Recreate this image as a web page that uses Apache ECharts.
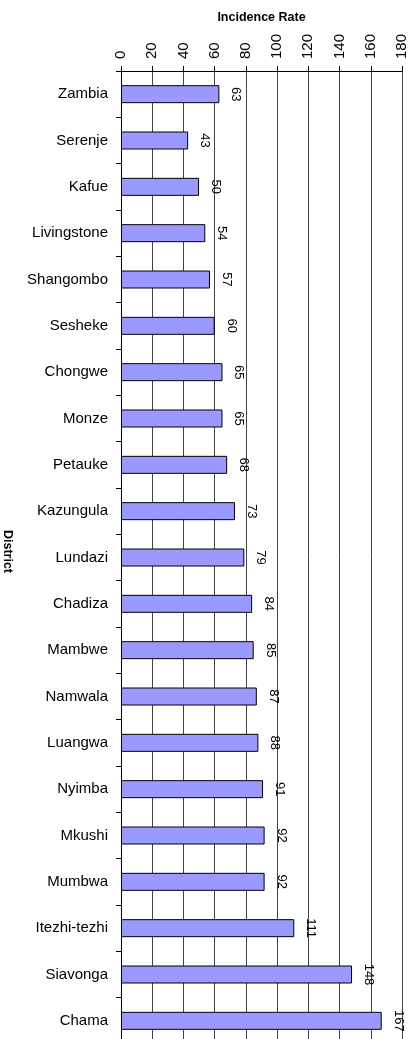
<!DOCTYPE html>
<html>
<head>
<meta charset="utf-8">
<script src="https://cdn.jsdelivr.net/npm/echarts@6/dist/echarts.min.js"></script>
<style>
  html, body { margin: 0; padding: 0; background: #fff; }
  #chart { width: 419px; height: 1039px; }
</style>
</head>
<body>
<div id="chart"></div>
<script>
// districts, top to bottom
var districts = ['Zambia', 'Serenje', 'Kafue', 'Livingstone', 'Shangombo', 'Sesheke',
  'Chongwe', 'Monze', 'Petauke', 'Kazungula', 'Lundazi', 'Chadiza', 'Mambwe',
  'Namwala', 'Luangwa', 'Nyimba', 'Mkushi', 'Mumbwa', 'Itezhi-tezhi', 'Siavonga', 'Chama'];
var incidence = [63, 43, 50, 54, 57, 60, 65, 65, 68, 73, 79, 84, 85, 87, 88, 91, 92, 92, 111, 148, 167];
var rateMin = 0, rateMax = 180, rateStep = 20;

var font = 'Liberation Sans, Arial, sans-serif';
var chart = echarts.init(document.getElementById('chart'));
chart.setOption({
  animation: false,
  textStyle: { fontFamily: font },
  grid: { left: 121, right: 17, top: 71, bottom: -5, containLabel: false, outerBoundsMode: 'none' },
  xAxis: {
    type: 'value',
    position: 'top',
    min: rateMin, max: rateMax, interval: rateStep,
    name: 'Incidence Rate',
    nameLocation: 'middle',
    nameGap: 47,
    nameTextStyle: { fontSize: 12.5, fontWeight: 'bold', color: '#000' },
    axisLine: { show: true, lineStyle: { color: '#000', width: 1 } },
    axisTick: { show: true, length: 5, lineStyle: { color: '#000' } },
    axisLabel: { rotate: -90, fontSize: 15, color: '#000', margin: 12 },
    splitLine: { show: true, lineStyle: { color: '#444', width: 1 } }
  },
  yAxis: {
    type: 'category',
    inverse: true,
    data: districts,
    name: 'District',
    nameLocation: 'middle',
    nameRotate: -90,
    nameGap: 107,
    nameTextStyle: { fontSize: 12.5, fontWeight: 'bold', color: '#000', padding: [0, 12, 0, 0] },
    axisLine: { show: true, lineStyle: { color: '#000', width: 1 } },
    axisTick: { show: true, length: 5, lineStyle: { color: '#000' } },
    axisLabel: { fontSize: 15, color: '#000', margin: 13 }
  },
  series: [{
    type: 'bar',
    data: incidence,
    barWidth: 18,
    itemStyle: { color: '#9999ff', borderColor: '#000', borderWidth: 1 },
    label: {
      show: true,
      position: 'right',
      distance: 10,
      rotate: -90,
      align: 'center',
      verticalAlign: 'bottom',
      fontSize: 13,
      color: '#000'
    }
  }]
});
</script>
</body>
</html>
